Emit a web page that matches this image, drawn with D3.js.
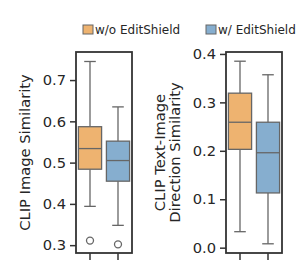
<!DOCTYPE html>
<html>
<head>
<meta charset="utf-8">
<script src="https://cdn.jsdelivr.net/npm/d3@7"></script>
<style>
  body { margin: 0; background: #fff; }
  text { font-family: "DejaVu Sans", sans-serif; fill: #262626; }
</style>
</head>
<body>
<div id="chart"></div>
<script>
// Groups and box stats: [whiskerLow, q1, median, q3, whiskerHigh]
const groups = ["w/o EditShield", "w/ EditShield"];
const colors = ["#eeb370", "#86aecf"];

const imageStats = [
    [0.394, 0.484, 0.534, 0.587, 0.745],
    [0.348, 0.455, 0.505, 0.552, 0.635]
];
const imageOutliers = [[0.311], [0.302]];
const imageTicks = [0.3, 0.4, 0.5, 0.6, 0.7];

const textStats = [
    [0.033, 0.203, 0.259, 0.319, 0.385],
    [0.008, 0.113, 0.196, 0.259, 0.357]
];
const textOutliers = [[], []];
const textTicks = [0.0, 0.1, 0.2, 0.3, 0.4];

const width = 300, height = 280;
const svg = d3.select("#chart").append("svg")
    .attr("width", width)
    .attr("height", height);

const plotTop = 52, plotBottom = 253;

function drawPanel(left, right, domain, ticks, stats, outliers, labelLines) {
    const y = d3.scaleLinear().domain(domain).range([plotBottom, plotTop]);
    const x = d3.scaleBand().domain(groups).range([left, right]).paddingInner(0.1).paddingOuter(0.05);
    const g = svg.append("g");

    const yAxis = g.append("g")
        .attr("transform", `translate(${left},0)`)
        .call(d3.axisLeft(y).tickValues(ticks).tickFormat(d3.format(".1f")).tickSize(6).tickPadding(4));
    yAxis.select(".domain").remove();
    yAxis.selectAll("line").attr("stroke", "#333").attr("stroke-width", 1.5);
    yAxis.selectAll("text").style("font-size", "14.7px").attr("fill", "#262626");

    const xAxis = g.append("g")
        .attr("transform", `translate(0,${plotBottom})`)
        .call(d3.axisBottom(x).tickSize(7).tickFormat(""));
    xAxis.select(".domain").remove();
    xAxis.selectAll("line").attr("stroke", "#333").attr("stroke-width", 1.5);

    groups.forEach((grp, i) => {
        const s = stats[i];
        const cx = x(grp) + x.bandwidth() / 2;
        const bw = x.bandwidth() * 0.92;
        g.append("line")
            .attr("x1", cx).attr("x2", cx)
            .attr("y1", y(s[0])).attr("y2", y(s[1]))
            .attr("stroke", "#666").attr("stroke-width", 1.3);
        g.append("line")
            .attr("x1", cx).attr("x2", cx)
            .attr("y1", y(s[3])).attr("y2", y(s[4]))
            .attr("stroke", "#666").attr("stroke-width", 1.3);
        [s[0], s[4]].forEach(v => {
            g.append("line")
                .attr("x1", cx - bw / 4).attr("x2", cx + bw / 4)
                .attr("y1", y(v)).attr("y2", y(v))
                .attr("stroke", "#666").attr("stroke-width", 1.3);
        });
        g.append("rect")
            .attr("x", cx - bw / 2).attr("width", bw)
            .attr("y", y(s[3])).attr("height", y(s[1]) - y(s[3]))
            .attr("fill", colors[i])
            .attr("stroke", "#666").attr("stroke-width", 1.3);
        g.append("line")
            .attr("x1", cx - bw / 2).attr("x2", cx + bw / 2)
            .attr("y1", y(s[2])).attr("y2", y(s[2]))
            .attr("stroke", "#666").attr("stroke-width", 1.3);
        outliers[i].forEach(v => {
            g.append("circle")
                .attr("cx", cx).attr("cy", y(v)).attr("r", 3.5)
                .attr("fill", "none").attr("stroke", "#666").attr("stroke-width", 1.3);
        });
    });

    g.append("rect")
        .attr("x", left).attr("y", plotTop)
        .attr("width", right - left).attr("height", plotBottom - plotTop)
        .attr("fill", "none").attr("stroke", "#333").attr("stroke-width", 1.8);

    const cy = (plotTop + plotBottom) / 2;
    const lx = left - 51 - (labelLines.length - 1) * 15;
    labelLines.forEach((line, k) => {
        g.append("text")
            .attr("transform", `translate(${lx + k * 15},${cy}) rotate(-90)`)
            .attr("text-anchor", "middle")
            .attr("dy", "0.35em")
            .style("font-size", "14.7px")
            .text(line);
    });
}

drawPanel(76, 132, [0.281, 0.768], imageTicks, imageStats, imageOutliers, ["CLIP Image Similarity"]);
drawPanel(226, 282, [-0.011, 0.404], textTicks, textStats, textOutliers, ["CLIP Text-Image", "Direction Similarity"]);

// Legend
const legendX = [83, 206];
groups.forEach((grp, i) => {
    const lg = svg.append("g").attr("transform", `translate(${legendX[i]},25)`);
    lg.append("rect")
        .attr("x", 0).attr("y", 0).attr("width", 10).attr("height", 9)
        .attr("fill", colors[i]).attr("stroke", "#666").attr("stroke-width", 1);
    lg.append("text")
        .attr("x", 12).attr("y", 4.5).attr("dy", "0.35em")
        .style("font-size", "12px")
        .text(grp);
});
</script>
</body>
</html>
